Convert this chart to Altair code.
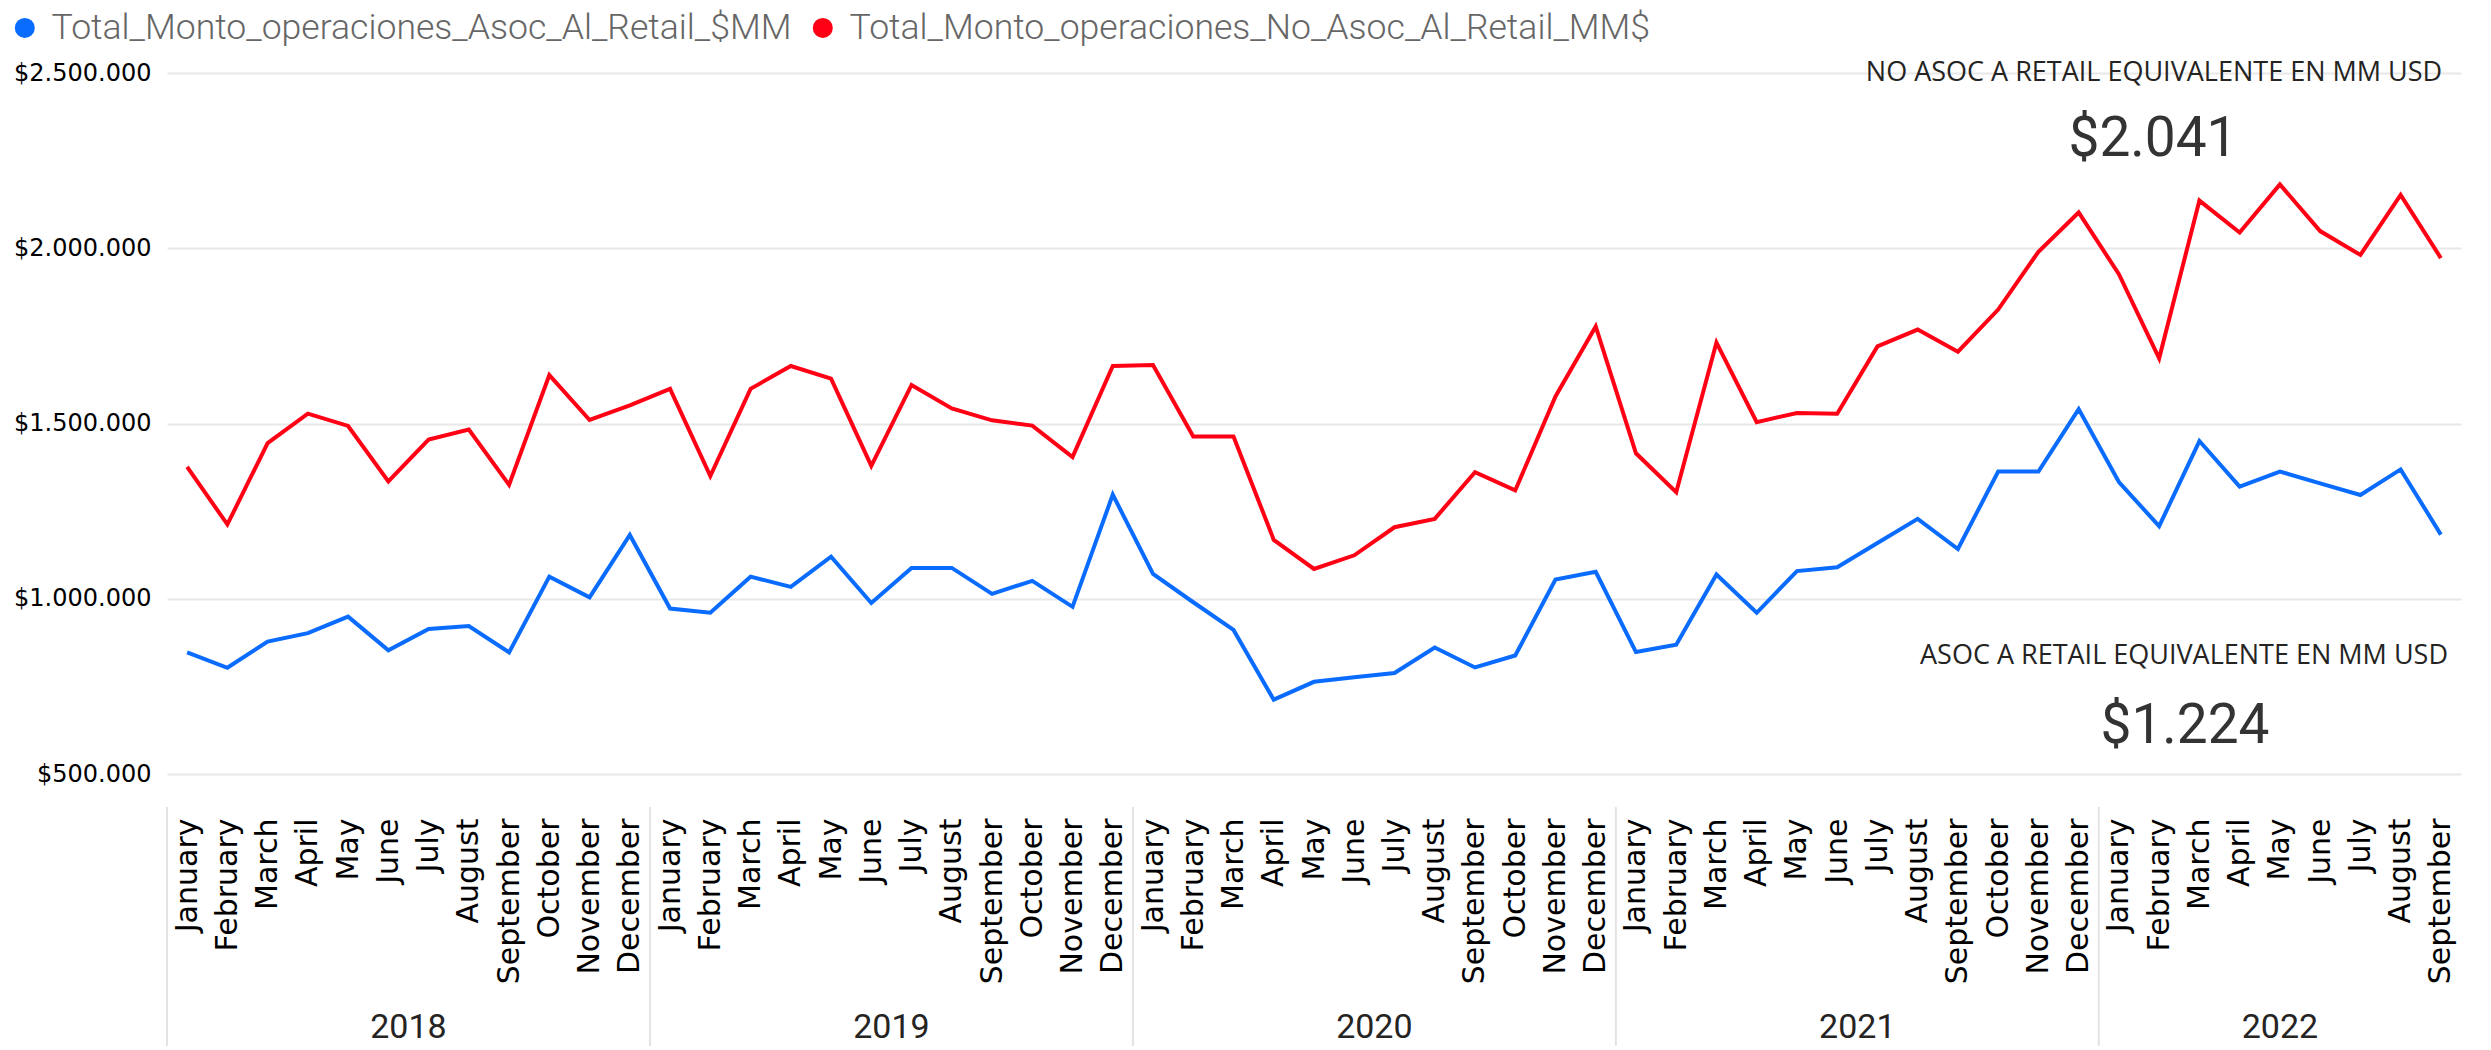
import altair as alt
import pandas as pd

# ---------------- data ----------------
MONTHS = ["January", "February", "March", "April", "May", "June", "July",
          "August", "September", "October", "November", "December"]
YEARS = [2018, 2019, 2020, 2021, 2022]
MONTHS_PER_YEAR = [12, 12, 12, 12, 9]

SERIES = ["Total_Monto_operaciones_Asoc_Al_Retail_$MM",
          "Total_Monto_operaciones_No_Asoc_Al_Retail_MM$"]
COLORS = ["#0A6CFF", "#FF0014"]

ASOC = [
    847000, 803000, 878000, 902000, 949000, 853000, 914000, 922000, 847000, 1063000, 1004000, 1182000,
    972000, 960000, 1063000, 1034000, 1120000, 988000, 1088000, 1088000, 1014000, 1051000, 977000, 1297000,
    1071000, 990000, 911000, 712000, 763000, 776000, 788000, 861000, 804000, 838000, 1055000, 1077000,
    848000, 869000, 1069000, 960000, 1079000, 1090000, 1159000, 1228000, 1142000, 1363000, 1363000, 1541000,
    1333000, 1207000, 1450000, 1320000, 1363000, 1329000, 1296000, 1369000, 1183000,
]
NO_ASOC = [
    1376000, 1212000, 1444000, 1528000, 1493000, 1335000, 1454000, 1483000, 1325000, 1638000, 1510000, 1552000,
    1599000, 1350000, 1599000, 1664000, 1628000, 1379000, 1610000, 1543000, 1509000, 1494000, 1404000, 1664000,
    1667000, 1463000, 1463000, 1168000, 1085000, 1124000, 1204000, 1228000, 1361000, 1309000, 1577000, 1777000,
    1415000, 1304000, 1731000, 1504000, 1530000, 1528000, 1720000, 1768000, 1705000, 1825000, 1990000, 2102000,
    1926000, 1686000, 2136000, 2045000, 2182000, 2049000, 1981000, 2152000, 1972000,
]
Y_TICKS = [500000, 1000000, 1500000, 2000000, 2500000]

CARD1_TITLE = "NO ASOC A RETAIL EQUIVALENTE EN MM USD"
CARD1_VALUE = "$2.041"
CARD2_TITLE = "ASOC A RETAIL EQUIVALENTE EN MM USD"
CARD2_VALUE = "$1.224"

# ---------------- tables ----------------
n = len(ASOC)
rows = []
for i in range(n):
    rows.append({"idx": i, "series": SERIES[0], "value": ASOC[i]})
    rows.append({"idx": i, "series": SERIES[1], "value": NO_ASOC[i]})
lines_df = pd.DataFrame(rows)

starts, centers = [], []
s = 0
for cnt in MONTHS_PER_YEAR:
    starts.append(s - 0.5)
    centers.append(s - 0.5 + cnt / 2)
    s += cnt
years_df = pd.DataFrame({"year": [str(y) for y in YEARS], "center": centers, "start": starts})

NARROW = "Roboto, sans-serif"
label_expr = "[" + ",".join("'%s'" % m for m in MONTHS) + "][datum.value % 12]"
xscale = alt.Scale(domain=[-0.5, n - 0.5], nice=False, zero=False)

lines = alt.Chart(lines_df).mark_line(strokeWidth=4).encode(
    x=alt.X("idx:Q", scale=xscale,
            axis=alt.Axis(values=list(range(n)), labelExpr=label_expr, title=None,
                          labelAngle=270, labelAlign="right", labelBaseline="middle",
                          labelFont="DejaVu Sans", labelFontSize=30, labelColor="#000000",
                          labelPadding=44, labelOverlap=False, labelFlush=False,
                          grid=False, domain=False, ticks=False)),
    y=alt.Y("value:Q",
            scale=alt.Scale(domain=[500000, 2500000], nice=False, zero=False),
            axis=alt.Axis(values=Y_TICKS, title=None,
                          labelExpr="'$' + replace(replace(format(datum.value, ','), ',', '.'), ',', '.')",
                          labelFont="DejaVu Sans", labelFontSize=24, labelColor="#000000",
                          labelPadding=16, grid=True, gridColor="#E8E8E8", gridWidth=2,
                          domain=False, ticks=False)),
    color=alt.Color("series:N",
                    scale=alt.Scale(domain=SERIES, range=COLORS),
                    sort=SERIES,
                    legend=alt.Legend(orient="none", legendX=-160, legendY=-63,
                                      direction="horizontal", title=None,
                                      symbolType="circle", symbolSize=100,
                                      symbolStrokeWidth=10, padding=0,
                                      labelFont=NARROW, labelFontSize=35.6,
                                      labelFontWeight=300,
                                      labelColor="#666666", labelLimit=2000,
                                      labelOffset=9, columnPadding=5)),
)

separators = alt.Chart(years_df).mark_rule(color="#E3E3E3", strokeWidth=2).encode(
    x=alt.X("start:Q", scale=xscale),
    y=alt.value(734),
    y2=alt.value(990),
)

year_text = alt.Chart(years_df).mark_text(
    font=NARROW, fontSize=34, color="#252423", baseline="middle", align="center"
).encode(
    x=alt.X("center:Q", scale=xscale),
    y=alt.value(955),
    text="year:N",
)

def card(text, x, y, font, size, color):
    return alt.Chart(pd.DataFrame({"t": [text]})).mark_text(
        font=font, fontSize=size, color=color, align="center", baseline="middle"
    ).encode(x=alt.value(x), y=alt.value(y), text="t:N")

cards = [
    card(CARD1_TITLE, 1987, 0, "Open Sans", 27, "#252423"),
    card(CARD1_VALUE, 1986, 66, NARROW, 55, "#333333"),
    card(CARD2_TITLE, 2017, 583, "Open Sans", 27, "#252423"),
    card(CARD2_VALUE, 2018, 653, NARROW, 55, "#333333"),
]

chart = alt.layer(lines, separators, year_text, *cards).properties(
    width=2294, height=701,
    autosize=alt.AutoSizeParams(type="none"),
    padding={"left": 159, "top": 65, "right": 22, "bottom": 272},
    background="white",
).configure_view(stroke=None)

chart.save("out.html", embed_options={"renderer": "svg", "actions": False})
